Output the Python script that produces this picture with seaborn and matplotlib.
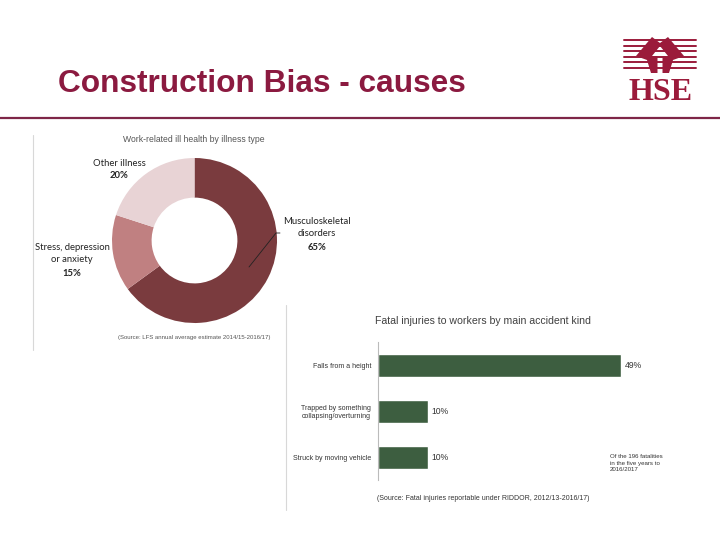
import matplotlib
matplotlib.use("Agg")
import matplotlib.pyplot as plt
from matplotlib.lines import Line2D
from matplotlib.patches import Polygon
import seaborn as sns
import pandas as pd

# ---------------- data ----------------
page_title = "Construction Bias - causes"

illness_title = "Work-related ill health by illness type"
illness_types = ["Musculoskeletal\ndisorders", "Stress, depression\nor anxiety", "Other illness"]
illness_share = [65, 15, 20]
illness_source = "(Source: LFS annual average estimate 2014/15-2016/17)"

accident_title = "Fatal injuries to workers by main accident kind"
accident_kinds = ["Falls from a height", "Trapped by something\ncollapsing/overturning", "Struck by moving vehicle"]
accident_share = [49, 10, 10]
accident_note = "Of the 196 fatalities\nin the five years to\n2016/2017"
accident_source = "(Source: Fatal injuries reportable under RIDDOR, 2012/13-2016/17)"

# ---------------- style ----------------
sns.set_style("white")
plt.rcParams["font.family"] = ["Liberation Sans", "DejaVu Sans"]

W, H = 720, 540
fig = plt.figure(figsize=(7.2, 5.4), dpi=100)
fig.patch.set_facecolor("white")


def fx(x):
    return x / W


def fy(y):
    return 1 - y / H


def axes_px(left, top, right, bottom):
    return fig.add_axes([fx(left), fy(bottom), (right - left) / W, (bottom - top) / H])


MAROON = "#8B1A40"
LOGO = "#9B1B3B"
DONUT_COLORS = ["#7A3B3E", "#C08081", "#E8D3D5"]
GREEN = "#3D5E40"

# ---------------- header ----------------
fig.text(fx(58), fy(92), page_title, fontsize=22.8, fontweight="bold",
         color=MAROON, ha="left", va="baseline", family="Liberation Sans")
fig.add_artist(Line2D([0, 1], [fy(118), fy(118)], color="#7E2648", lw=1.6,
                      transform=fig.transFigure))

# HSE logo
for yy in [40, 45.5, 51, 56.5, 62, 67.5]:
    fig.add_artist(Line2D([fx(624), fx(696)], [fy(yy), fy(yy)], color=LOGO,
                          lw=1.4, transform=fig.transFigure))
emblem = [(636, 56), (652, 37), (660, 43), (668, 37), (684, 56), (673, 60),
          (669, 73), (651, 73), (647, 60)]
arrow = [(660, 46), (652, 56), (657.5, 56), (657.5, 74), (662.5, 74),
         (662.5, 56), (668, 56)]
fig.add_artist(Polygon([(fx(a), fy(b)) for a, b in emblem], closed=True,
                       facecolor=LOGO, edgecolor="none", transform=fig.transFigure))
fig.add_artist(Polygon([(fx(a), fy(b)) for a, b in arrow], closed=True,
                       facecolor="white", edgecolor="none", transform=fig.transFigure))
fig.text(fx(660.5), fy(100), "HSE", fontsize=23, fontweight="bold", color=LOGO,
         ha="center", va="baseline", family="Liberation Serif")

# thin image borders
fig.add_artist(Line2D([fx(33), fx(33)], [fy(135), fy(350)], color="#D8D8D8", lw=0.8,
                      transform=fig.transFigure))
fig.add_artist(Line2D([fx(286), fx(286)], [fy(305), fy(510)], color="#D8D8D8", lw=0.8,
                      transform=fig.transFigure))

# ---------------- donut ----------------
cx, cy, r = 194.5, 240.5, 82.5
axd = axes_px(cx - r, cy - r, cx + r, cy + r)
axd.pie(illness_share, colors=DONUT_COLORS, startangle=90, counterclock=False,
        radius=1, wedgeprops=dict(width=0.48, edgecolor="none"))
axd.set_xlim(-1, 1)
axd.set_ylim(-1, 1)
axd.set_aspect("equal")
axd.axis("off")

fig.text(fx(194), fy(139), illness_title, fontsize=6.2, color="#555555",
         ha="center", va="center")

LBL = ["Lato", "DejaVu Sans"]
label_pos = [(317, [221, 234], 247), (72, [247, 260], 273), (119, [163], 176)]
for (lx, line_ys, pct_y), name, share in zip(label_pos, illness_types, illness_share):
    for line, ly in zip(name.split("\n"), line_ys):
        fig.text(fx(lx), fy(ly), line, fontsize=6.8, color="#222222",
                 ha="center", va="center", family=LBL)
    fig.text(fx(lx), fy(pct_y), f"{share}%", fontsize=6.8, fontweight="bold",
             color="#222222", ha="center", va="center", family=LBL)

fig.add_artist(Line2D([fx(249), fx(276), fx(280)], [fy(267), fy(233), fy(233)],
                      color="#222222", lw=0.6, transform=fig.transFigure))

fig.text(fx(194), fy(337), illness_source, fontsize=4.3, color="#555555",
         ha="center", va="center")

# ---------------- bar chart ----------------
axb = axes_px(378, 342, 700, 480)
df = pd.DataFrame({"kind": accident_kinds, "share": accident_share})
sns.barplot(data=df, x="share", y="kind", orient="h", color=GREEN, saturation=1,
            width=0.5, ax=axb)
axb.set_xlim(0, 65)
axb.set_ylim(2.5, -0.5)
axb.set_xlabel("")
axb.set_ylabel("")
axb.set_xticks([])
for s in ["top", "right", "bottom"]:
    axb.spines[s].set_visible(False)
axb.spines["left"].set_color("#BBBBBB")
axb.spines["left"].set_linewidth(0.8)
axb.tick_params(axis="y", which="major", length=0, labelsize=5, pad=5,
                labelcolor="#333333")
axb.set_yticks([0.5, 1.5], minor=True)
axb.tick_params(axis="y", which="minor", length=2.5, color="#BBBBBB", width=0.8)
axb.set_facecolor("none")
for cont in axb.containers:
    axb.bar_label(cont, labels=[f"{v}%" for v in accident_share], padding=3,
                  fontsize=6.2, color="#333333")

fig.text(fx(483), fy(321), accident_title, fontsize=7.6, color="#404040",
         ha="center", va="center")
fig.text(fx(610), fy(463), accident_note, fontsize=4.4, color="#333333",
         ha="left", va="center", linespacing=1.35)
fig.text(fx(483), fy(499), accident_source, fontsize=5, color="#333333",
         ha="center", va="center")

fig.savefig("out.png", dpi=100, facecolor="white")
